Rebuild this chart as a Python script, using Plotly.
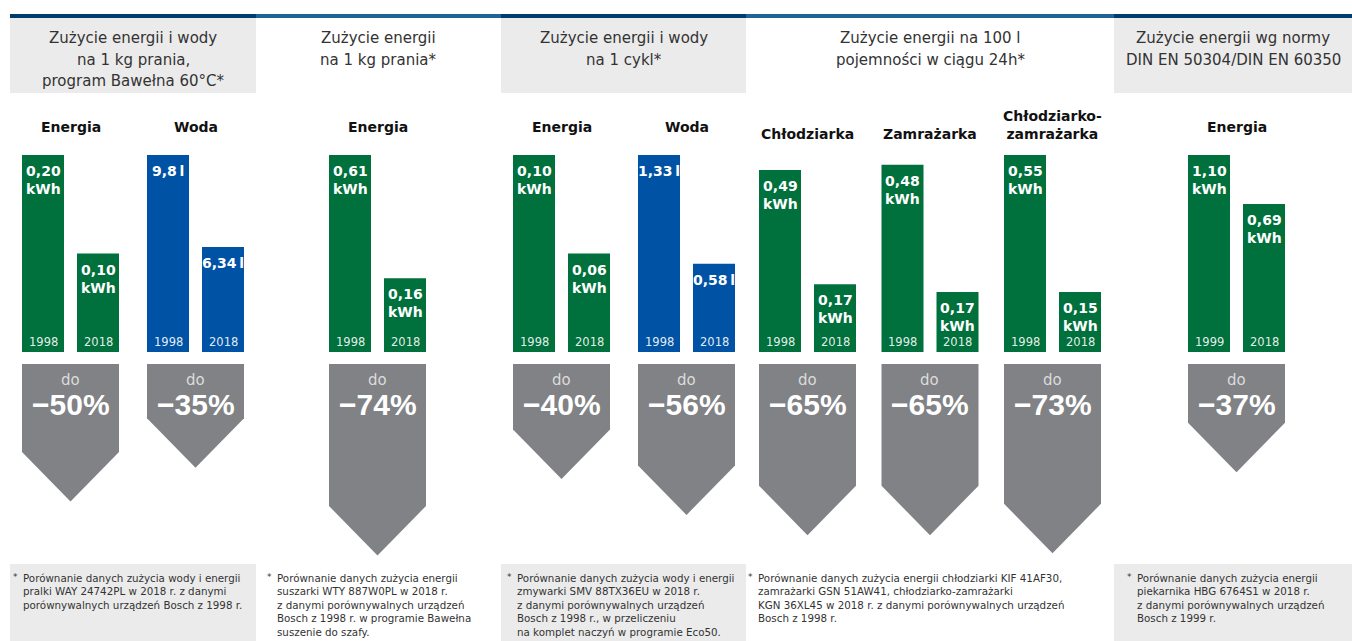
import plotly.graph_objects as go

# ---------------- data ----------------
group_titles = ["Energia", "Woda", "Energia", "Energia", "Woda",
                "Chłodziarka", "Zamrażarka", "Chłodziarko-<br>zamrażarka", "Energia"]
units = ["kWh", "l", "kWh", "kWh", "l", "kWh", "kWh", "kWh", "kWh"]
years_old = ["1998", "1998", "1998", "1998", "1998", "1998", "1998", "1998", "1999"]
years_new = ["2018", "2018", "2018", "2018", "2018", "2018", "2018", "2018", "2018"]
values_old = [0.20, 9.8, 0.61, 0.10, 1.33, 0.49, 0.48, 0.55, 1.10]
values_new = [0.10, 6.34, 0.16, 0.06, 0.58, 0.17, 0.17, 0.15, 0.69]
reductions = [50, 35, 74, 40, 56, 65, 65, 73, 37]

section_titles = [
    ["Zużycie energii i wody", "na 1 kg prania,", "program Bawełna 60°C*"],
    ["Zużycie energii", "na 1 kg prania*"],
    ["Zużycie energii i wody", "na 1 cykl*"],
    ["Zużycie energii na 100 l", "pojemności w ciągu 24h*"],
    ["Zużycie energii wg normy", "DIN EN 50304/DIN EN 60350"],
]
footnotes = [
    ["Porównanie danych zużycia wody i energii", "pralki WAY 24742PL w 2018 r. z danymi",
     "porównywalnych urządzeń Bosch z 1998 r."],
    ["Porównanie danych zużycia energii", "suszarki WTY 887W0PL w 2018 r.",
     "z danymi porównywalnych urządzeń", "Bosch z 1998 r. w programie Bawełna", "suszenie do szafy."],
    ["Porównanie danych zużycia wody i energii", "zmywarki SMV 88TX36EU w 2018 r.",
     "z danymi porównywalnych urządzeń", "Bosch z 1998 r., w przeliczeniu",
     "na komplet naczyń w programie Eco50."],
    ["Porównanie danych zużycia energii chłodziarki KIF 41AF30,",
     "zamrażarki GSN 51AW41, chłodziarko-zamrażarki",
     "KGN 36XL45 w 2018 r. z danymi porównywalnych urządzeń", "Bosch z 1998 r."],
    ["Porównanie danych zużycia energii", "piekarnika HBG 6764S1 w 2018 r.",
     "z danymi porównywalnych urządzeń", "Bosch z 1999 r."],
]

# ---------------- layout / style ----------------
W, H = 1352, 641
GREEN = "#00703c"
BLUE = "#0053a4"
GREY_ARROW = "#808285"
BOX_GREY = "#ebebeb"
DARK_LINE = "#003b6e"
LIGHT_LINE = "#226491"
TXT = "#333333"
FONT = "DejaVu Sans"
FONT_PCT = "Liberation Sans"

group_colors = [GREEN, BLUE, GREEN, GREEN, BLUE, GREEN, GREEN, GREEN, GREEN]
group_left_bar_center = [43, 168, 350, 534, 659, 780, 902.5, 1025, 1209]   # px
group_title_y = [127, 127, 127, 127, 127, 134, 134, 125, 127]
# value axis range per panel (infographic scale per pair)
y_ranges = [(0.0, 0.20), (2.39, 9.8), (-0.11, 0.61), (0.02, 0.10), (-0.03, 1.33),
            (-0.02, 0.532), (0.024, 0.504), (-0.025, 0.55), (-0.55, 1.10)]

sections_x = [(10, 256), (256, 501), (501, 746), (746, 1114), (1114, 1352)]
section_shaded = [True, False, True, False, True]
foot_x = [21, 275, 515, 756, 1135]

BAR_TOP, BAR_BOTTOM = 155, 352
BAR_W = 42 / 55
ARROW_TOP_PX = 364
# arrow scale: pixel = ARROW_TOP_PX + PX_PER_PCT * (pct - PCT_AT_TOP)
PX_PER_PCT = 2.25
PCT_AT_TOP = -11.1
TIP_PCT = 22.0


def px(x):
    return x / W


def py(y):
    return 1 - y / H


def ax(k, kind):
    return kind if k == 1 else f"{kind}{k}"


fig = go.Figure()
annotations = []
shapes = []

# background boxes and top rule
for (x0, x1), shaded in zip(sections_x, section_shaded):
    if shaded:
        shapes.append(dict(type="rect", xref="paper", yref="paper", x0=px(x0), x1=px(x1),
                           y0=py(93), y1=py(18), fillcolor=BOX_GREY, line_width=0, layer="below"))
        shapes.append(dict(type="rect", xref="paper", yref="paper", x0=px(x0), x1=px(x1),
                           y0=py(641), y1=py(564), fillcolor=BOX_GREY, line_width=0, layer="below"))
    shapes.append(dict(type="rect", xref="paper", yref="paper", x0=px(x0), x1=px(x1),
                       y0=py(18), y1=py(14), fillcolor=DARK_LINE if shaded else LIGHT_LINE,
                       line_width=0))

# section titles
for (x0, x1), lines in zip(sections_x, section_titles):
    for j, line in enumerate(lines):
        annotations.append(dict(xref="paper", yref="paper", x=px((x0 + x1) / 2),
                                y=py(38 + 21.5 * j), text=line, showarrow=False,
                                xanchor="center", yanchor="middle",
                                font=dict(family=FONT, size=15, color=TXT)))

# footnotes
for fx, lines in zip(foot_x, footnotes):
    annotations.append(dict(xref="paper", yref="paper", x=px(fx - 1), y=py(570), text="*",
                            showarrow=False, xanchor="right", yanchor="top",
                            font=dict(family=FONT, size=9, color=TXT)))
    annotations.append(dict(xref="paper", yref="paper", x=px(fx), y=py(570),
                            text="<br>".join(lines), showarrow=False, align="left",
                            xanchor="left", yanchor="top",
                            font=dict(family=FONT, size=10.3, color=TXT)))

layout_axes = {}
arrow_y = "y10"
for idx in range(9):
    k = idx + 1
    xa, ya = ax(k, "x"), ax(k, "y")
    lo, hi = y_ranges[idx]
    c1 = group_left_bar_center[idx]
    vals = [values_old[idx], values_new[idx]]
    fig.add_trace(go.Bar(x=[0, 1], y=[v - lo for v in vals], base=[lo, lo], width=BAR_W,
                         marker=dict(color=group_colors[idx], line_width=0),
                         xaxis=xa, yaxis=ya, hoverinfo="skip"))
    layout_axes["xaxis" if k == 1 else f"xaxis{k}"] = dict(
        domain=[px(c1 - 27.5), px(c1 + 82.5)], range=[-0.5, 1.5], visible=False,
        anchor=ya, fixedrange=True)
    layout_axes["yaxis" if k == 1 else f"yaxis{k}"] = dict(
        domain=[py(BAR_BOTTOM), py(BAR_TOP)], range=[lo, hi], visible=False,
        anchor=xa, fixedrange=True)

    # value labels and years
    for j, (v, yr) in enumerate(zip(vals, [years_old[idx], years_new[idx]])):
        if units[idx] == "kWh":
            lab = "<b>" + f"{v:.2f}".replace(".", ",") + "</b><br><b>kWh</b>"
        else:
            lab = "<b>" + f"{v:g}".replace(".", ",") + "\u2009l</b>"
        annotations.append(dict(xref=xa, yref=ya, x=j, y=v, yshift=-6, text=lab,
                                showarrow=False, xanchor="center", yanchor="top",
                                font=dict(family=FONT, size=14, color="white")))
        annotations.append(dict(xref=xa, yref=ya, x=j, y=lo, yshift=1, text=yr,
                                showarrow=False, xanchor="center", yanchor="bottom",
                                font=dict(family=FONT, size=11.5, color="rgba(255,255,255,0.9)")))

    # group title
    annotations.append(dict(xref=f"{xa} domain", yref="paper", x=0.5, y=py(group_title_y[idx]),
                            text="<b>" + group_titles[idx].replace("<br>", "</b><br><b>") + "</b>",
                            showarrow=False, xanchor="center", yanchor="middle",
                            font=dict(family=FONT, size=14, color="#111111")))

    # reduction arrow (drawn on percent scale)
    p = reductions[idx]
    L, R = -BAR_W / 2, 1 + BAR_W / 2
    top = PCT_AT_TOP
    fig.add_trace(go.Scatter(
        x=[L, R, R, 0.5, L, L], y=[top, top, p - TIP_PCT, p, p - TIP_PCT, top],
        mode="lines", fill="toself", fillcolor=GREY_ARROW, line=dict(width=0, color=GREY_ARROW),
        xaxis=xa, yaxis=arrow_y, hoverinfo="skip"))
    annotations.append(dict(xref=f"{xa} domain", yref="paper", x=0.5, y=py(380), text="do",
                            showarrow=False, xanchor="center", yanchor="middle",
                            font=dict(family=FONT, size=15, color="#dcdcdc")))
    annotations.append(dict(xref=f"{xa} domain", yref="paper", x=0.5, y=py(404),
                            text=f"<b>\u2212{p}%</b>", showarrow=False, xanchor="center",
                            yanchor="middle", font=dict(family=FONT_PCT, size=30, color="white")))

bottom_pct = PCT_AT_TOP + (H - ARROW_TOP_PX) / PX_PER_PCT
layout_axes["yaxis10"] = dict(domain=[0, py(ARROW_TOP_PX)], range=[bottom_pct, PCT_AT_TOP],
                              visible=False, anchor="x", fixedrange=True)

fig.update_layout(
    width=W, height=H, margin=dict(l=0, r=0, t=0, b=0),
    paper_bgcolor="white", plot_bgcolor="rgba(0,0,0,0)",
    showlegend=False, hovermode=False,
    shapes=shapes, annotations=annotations,
    **layout_axes,
)

fig.write_html("out.html", config={"displayModeBar": False},
               post_script="document.body.style.margin='0px';"
                           "document.body.style.overflow='hidden';")
